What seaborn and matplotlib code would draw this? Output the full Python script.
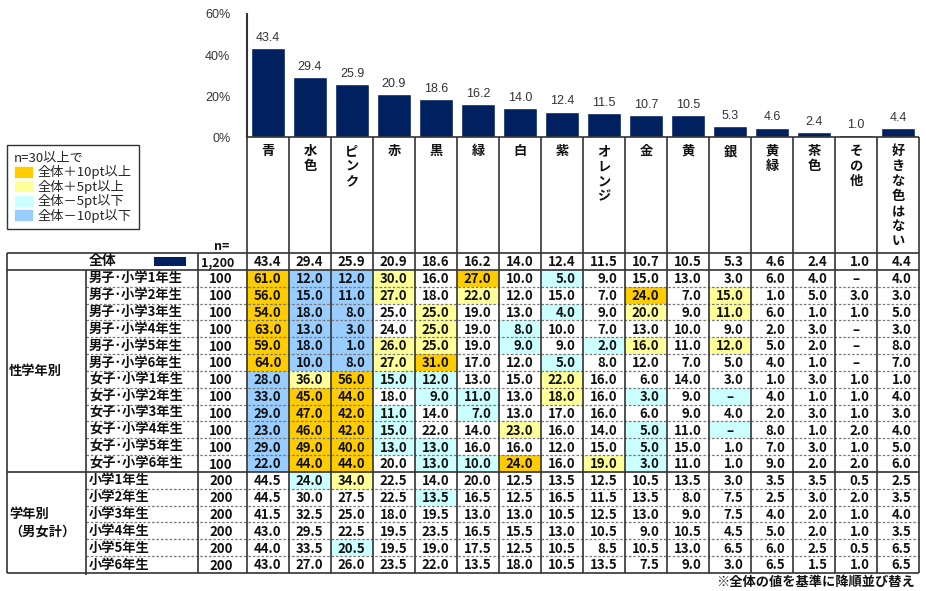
import numpy as np
import pandas as pd
import matplotlib
matplotlib.use("Agg")
import matplotlib.pyplot as plt
from matplotlib.colors import ListedColormap
from matplotlib.patches import Patch, Rectangle
import seaborn as sns

# ---------------- data ----------------
categories = ["青", "水色", "ピンク", "赤", "黒", "緑", "白", "紫", "オレンジ", "金",
              "黄", "銀", "黄緑", "茶色", "その他", "好きな色はない"]
total = [43.4, 29.4, 25.9, 20.9, 18.6, 16.2, 14.0, 12.4, 11.5, 10.7, 10.5, 5.3, 4.6, 2.4, 1.0, 4.4]
total_n = "1,200"

row_labels = ["男子･小学1年生", "男子･小学2年生", "男子･小学3年生", "男子･小学4年生",
              "男子･小学5年生", "男子･小学6年生", "女子･小学1年生", "女子･小学2年生",
              "女子･小学3年生", "女子･小学4年生", "女子･小学5年生", "女子･小学6年生",
              "小学1年生", "小学2年生", "小学3年生", "小学4年生", "小学5年生", "小学6年生"]
row_n = [100, 100, 100, 100, 100, 100, 100, 100, 100, 100, 100, 100,
         200, 200, 200, 200, 200, 200]
group_labels = ["性学年別", "学年別\n（男女計）"]
group_sizes = [12, 6]

N = np.nan
boys1 = [61.0, 12.0, 12.0, 30.0, 16.0, 27.0, 10.0, 5.0, 9.0, 15.0, 13.0, 3.0, 6.0, 4.0, N, 4.0]
boys2 = [56.0, 15.0, 11.0, 27.0, 18.0, 22.0, 12.0, 15.0, 7.0, 24.0, 7.0, 15.0, 1.0, 5.0, 3.0, 3.0]
boys3 = [54.0, 18.0, 8.0, 25.0, 25.0, 19.0, 13.0, 4.0, 9.0, 20.0, 9.0, 11.0, 6.0, 1.0, 1.0, 5.0]
boys4 = [63.0, 13.0, 3.0, 24.0, 25.0, 19.0, 8.0, 10.0, 7.0, 13.0, 10.0, 9.0, 2.0, 3.0, N, 3.0]
boys5 = [59.0, 18.0, 1.0, 26.0, 25.0, 19.0, 9.0, 9.0, 2.0, 16.0, 11.0, 12.0, 5.0, 2.0, N, 8.0]
boys6 = [64.0, 10.0, 8.0, 27.0, 31.0, 17.0, 12.0, 5.0, 8.0, 12.0, 7.0, 5.0, 4.0, 1.0, N, 7.0]
girls1 = [28.0, 36.0, 56.0, 15.0, 12.0, 13.0, 15.0, 22.0, 16.0, 6.0, 14.0, 3.0, 1.0, 3.0, 1.0, 1.0]
girls2 = [33.0, 45.0, 44.0, 18.0, 9.0, 11.0, 13.0, 18.0, 16.0, 3.0, 9.0, N, 4.0, 1.0, 1.0, 4.0]
girls3 = [29.0, 47.0, 42.0, 11.0, 14.0, 7.0, 13.0, 17.0, 16.0, 6.0, 9.0, 4.0, 2.0, 3.0, 1.0, 3.0]
girls4 = [23.0, 46.0, 42.0, 15.0, 22.0, 14.0, 23.0, 16.0, 14.0, 5.0, 11.0, N, 8.0, 1.0, 2.0, 4.0]
girls5 = [29.0, 49.0, 40.0, 13.0, 13.0, 16.0, 16.0, 12.0, 15.0, 5.0, 15.0, 1.0, 7.0, 3.0, 1.0, 5.0]
girls6 = [22.0, 44.0, 44.0, 20.0, 13.0, 10.0, 24.0, 16.0, 19.0, 3.0, 11.0, 1.0, 9.0, 2.0, 2.0, 6.0]
grade1 = [44.5, 24.0, 34.0, 22.5, 14.0, 20.0, 12.5, 13.5, 12.5, 10.5, 13.5, 3.0, 3.5, 3.5, 0.5, 2.5]
grade2 = [44.5, 30.0, 27.5, 22.5, 13.5, 16.5, 12.5, 16.5, 11.5, 13.5, 8.0, 7.5, 2.5, 3.0, 2.0, 3.5]
grade3 = [41.5, 32.5, 25.0, 18.0, 19.5, 13.0, 13.0, 10.5, 12.5, 13.0, 9.0, 7.5, 4.0, 2.0, 1.0, 4.0]
grade4 = [43.0, 29.5, 22.5, 19.5, 23.5, 16.5, 15.5, 13.0, 10.5, 9.0, 10.5, 4.5, 5.0, 2.0, 1.0, 3.5]
grade5 = [44.0, 33.5, 20.5, 19.5, 19.0, 17.5, 12.5, 10.5, 8.5, 10.5, 13.0, 6.5, 6.0, 2.5, 0.5, 6.5]
grade6 = [43.0, 27.0, 26.0, 23.5, 22.0, 13.5, 18.0, 10.5, 13.5, 7.5, 9.0, 3.0, 6.5, 1.5, 1.0, 6.5]

legend_title = "n=30以上で"
legend_labels = ["全体＋10pt以上", "全体＋5pt以上", "全体－5pt以下", "全体－10pt以下"]
footnote = "※全体の値を基準に降順並び替え"

# ---------------- style ----------------
sns.set_style("white")
plt.rcParams["font.family"] = ["Noto Sans CJK JP", "DejaVu Sans"]

BAR_COLOR = "#002060"
CELL_COLORS = ["#FFFFFF", "#FFCC00", "#FFFF99", "#CCFFFF", "#99CCFF"]
LINE = "#333333"
TXT = "#111111"

W, H = 926, 591
fig = plt.figure(figsize=(W / 100, H / 100), dpi=100)

# layout (pixels)
X0, X1 = 247, 919          # data columns span
BAR_TOP, BAR_BOT = 14, 137
TAB_TOP, TAB_BOT = 253, 573
LEFT, GRP_R, LBL_R = 7, 86, 198
ncol = len(categories)
nrow = 1 + len(row_labels)
cw = (X1 - X0) / ncol
rh = (TAB_BOT - TAB_TOP) / nrow


def fx(px):
    return px / W


def fy(py):
    return 1 - py / H


# ---------------- bar chart ----------------
ax_b = fig.add_axes([fx(X0), fy(BAR_BOT), fx(X1) - fx(X0), fy(BAR_TOP) - fy(BAR_BOT)])
bar_df = pd.DataFrame({"color": categories, "pct": total})
sns.barplot(data=bar_df, x="color", y="pct", ax=ax_b, color=BAR_COLOR,
            saturation=1, width=0.81)
ax_b.set_xlim(-0.5, ncol - 0.5)
ax_b.set_ylim(0, 60)
ax_b.set_yticks([0, 20, 40, 60])
ax_b.set_yticklabels([f"{t}%" for t in [0, 20, 40, 60]], fontsize=9, color="#333333",
                     family=["Liberation Sans", "DejaVu Sans"])
ax_b.tick_params(axis="y", direction="in", length=4, width=1.2, color=LINE, pad=12)
ax_b.set_xticks([])
ax_b.set_xlabel("")
ax_b.set_ylabel("")
for s in ["top", "right", "bottom"]:
    ax_b.spines[s].set_visible(False)
ax_b.spines["left"].set_color(LINE)
ax_b.spines["left"].set_linewidth(1.5)
ax_b.patch.set_alpha(0)
ax_b.bar_label(ax_b.containers[0], labels=[f"{v:.1f}" for v in total], padding=3,
               fontsize=9, color="#333333", family=["Liberation Sans", "DejaVu Sans"])

# ---------------- table (heatmap) ----------------
rows = [boys1, boys2, boys3, boys4, boys5, boys6, girls1, girls2, girls3, girls4,
        girls5, girls6, grade1, grade2, grade3, grade4, grade5, grade6]
vals = np.array([total] + rows, dtype=float)
tot = np.array(total)
codes = np.zeros_like(vals)
for i in range(1, nrow):
    n_ok = row_n[i - 1] >= 30
    d = np.round(np.nan_to_num(vals[i]) - tot, 1)
    c = np.zeros(ncol)
    if n_ok:
        c[d >= 5] = 2
        c[d >= 10] = 1
        c[d <= -5] = 3
        c[d <= -10] = 4
    codes[i] = c

ax_h = fig.add_axes([fx(X0), fy(TAB_BOT), fx(X1) - fx(X0), fy(TAB_TOP) - fy(TAB_BOT)])
sns.heatmap(codes, ax=ax_h, cmap=ListedColormap(CELL_COLORS), vmin=-0.5, vmax=4.5,
            cbar=False, linewidths=0, xticklabels=False, yticklabels=False, annot=False)
for i in range(nrow):
    for j in range(ncol):
        v = vals[i, j]
        if np.isnan(v):
            ax_h.text(j + 0.5, i + 0.55, "–", ha="center", va="center", fontsize=9.5,
                      fontweight="bold", color=TXT)
        else:
            ax_h.text(j + 0.82, i + 0.55, f"{v:.1f}", ha="right", va="center",
                      fontsize=9.5, fontweight="bold", color=TXT)

# ---------------- overlay (lines, labels) ----------------
ax_o = fig.add_axes([0, 0, 1, 1], zorder=5)
ax_o.set_xlim(0, W)
ax_o.set_ylim(H, 0)
ax_o.axis("off")
ax_o.patch.set_alpha(0)

# column header labels (vertical text)
for j, name in enumerate(categories):
    cx = X0 + (j + 0.5) * cw
    for k, ch in enumerate(name):
        ax_o.text(cx, 151 + k * 15, ch, ha="center", va="center", fontsize=9.5,
                  fontweight="bold", color=TXT)

ax_o.text(222, 246, "n=", ha="center", va="center", fontsize=9, fontweight="bold", color=TXT)

# solid horizontal lines
ax_o.hlines(BAR_BOT, X0, X1, color=LINE, lw=1.2)
for yy in [TAB_TOP, TAB_TOP + rh, TAB_TOP + rh * (1 + group_sizes[0]), TAB_BOT]:
    ax_o.hlines(yy, LEFT, X1, color=LINE, lw=1.2)
# dashed row separators
start = 1
for g in group_sizes:
    for k in range(1, g):
        yy = TAB_TOP + rh * (start + k)
        ax_o.hlines(yy, GRP_R, X1, color="#777777", lw=0.9, linestyles=(0, (2, 1.5)))
    start += g
# vertical lines
ax_o.vlines(LEFT, TAB_TOP, TAB_BOT, color=LINE, lw=1.2)
ax_o.vlines(GRP_R, TAB_TOP + rh, TAB_BOT + 2, color=LINE, lw=1.2)
ax_o.vlines(LBL_R, TAB_TOP, TAB_BOT, color=LINE, lw=1.2)
for j in range(ncol + 1):
    ax_o.vlines(X0 + j * cw, BAR_BOT, TAB_BOT, color=LINE, lw=1.2)

# 全体 row
ry = TAB_TOP + rh * 0.5
ax_o.text(89, ry, "全体", ha="left", va="center", fontsize=10, fontweight="bold", color=TXT)
ax_o.add_patch(Rectangle((154, ry - 4.5), 32, 9, facecolor=BAR_COLOR, edgecolor="none"))
ax_o.text(234, ry + 1, total_n, ha="right", va="center", fontsize=9, fontweight="bold", color=TXT)

# row labels and n
for i, (lab, n) in enumerate(zip(row_labels, row_n)):
    yy = TAB_TOP + rh * (i + 1.5)
    ax_o.text(89, yy, lab, ha="left", va="center", fontsize=9.5, fontweight="bold", color=TXT)
    ax_o.text(233, yy + 1, f"{n}", ha="right", va="center", fontsize=9.5, fontweight="bold", color=TXT)

# group labels
start = 1
for lab, g in zip(group_labels, group_sizes):
    yy = TAB_TOP + rh * (start + g / 2)
    ax_o.text(9, yy, lab, ha="left", va="center", fontsize=9.5, fontweight="bold",
              color=TXT, linespacing=1.3)
    start += g

ax_o.text(915, 582, footnote, ha="right", va="center", fontsize=9.5, fontweight="bold", color=TXT)

# legend
handles = [Patch(facecolor=c, edgecolor="white", linewidth=0.5, label=l)
           for c, l in zip(CELL_COLORS[1:], legend_labels)]
leg = fig.legend(handles=handles, title=legend_title, loc="upper left",
                 bbox_to_anchor=(fx(LEFT), fy(145)), bbox_transform=fig.transFigure,
                 borderaxespad=0, frameon=True, fancybox=False, edgecolor=LINE,
                 framealpha=1, fontsize=9.5, title_fontsize=9.5, handlelength=1.45,
                 handleheight=1.05, labelspacing=0.04, handletextpad=0.4,
                 borderpad=0.5, alignment="left")
leg.get_frame().set_linewidth(1.0)

fig.savefig("out.png", dpi=100)
